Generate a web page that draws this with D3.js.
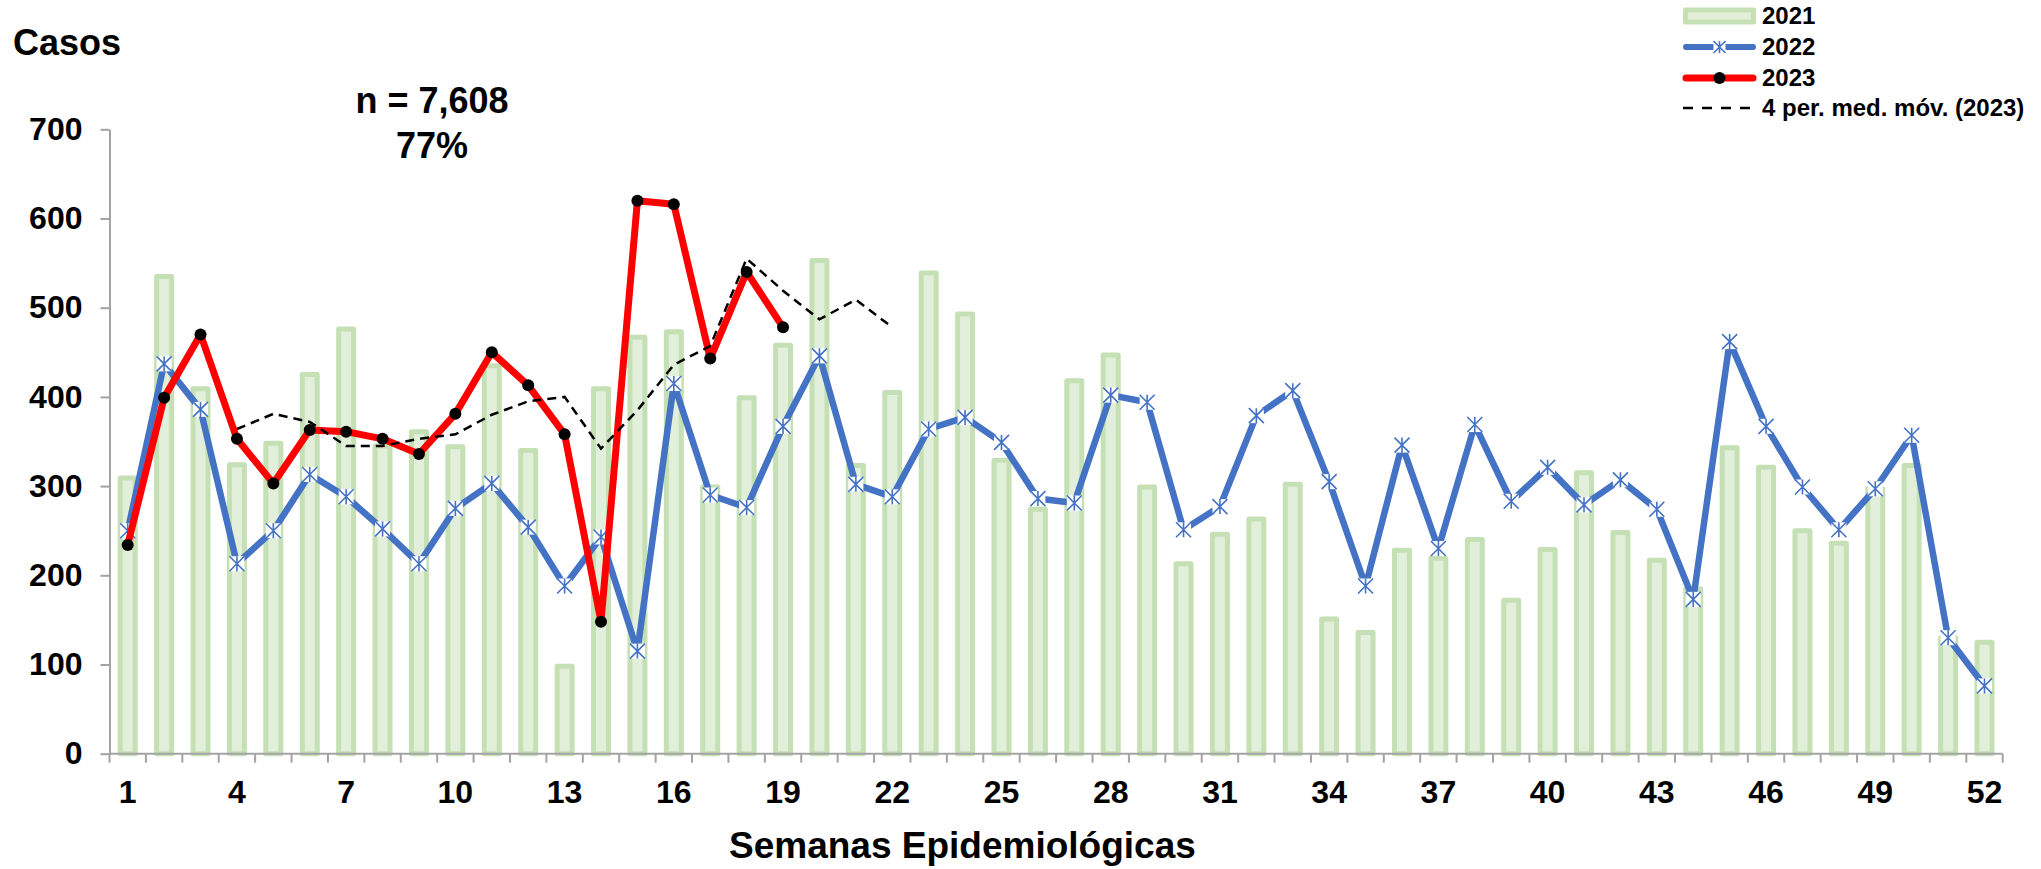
<!DOCTYPE html>
<html>
<head>
<meta charset="utf-8">
<script src="https://cdnjs.cloudflare.com/ajax/libs/d3/7.8.5/d3.min.js"></script>
<style>
  body { margin: 0; background: #fff; }
  text { font-family: "Liberation Sans", Arial, sans-serif; font-weight: bold; fill: #000; }
</style>
</head>
<body>
<div id="chart"></div>
<script>
var weeks = d3.range(1, 53)
var cases2021 = [309, 535, 409, 324, 348, 425, 476, 345, 361, 344, 435, 340, 98, 409, 467, 473,
                 299, 399, 458, 553, 323, 405, 539, 493, 329, 274, 418, 447, 299, 213, 246, 263, 302,
                 151, 136, 228, 219, 240, 172, 229, 315, 248, 217, 185, 343, 321, 250, 236, 297, 323, 130, 125]
var cases2022 = [250, 437, 386, 213, 250, 313, 288, 252, 213, 275, 303, 254, 188, 243, 115, 415,
                 290, 276, 367, 446, 302, 288, 364, 377, 349, 286, 281, 402, 394, 251, 277, 379, 407,
                 305, 188, 346, 230, 369, 283, 321, 279, 307, 274, 173, 462, 367, 299, 251, 297, 357, 130, 76]
var cases2023 = [234, 399, 470, 353, 303, 363, 361, 353, 336, 381, 450, 413, 358, 148, 620, 616, 443, 540, 478]
// 4 per. moving average (2023), weeks 4..22 as drawn
var movAvgWeeks = d3.range(4, 23)
var movAvg2023 = [364, 381, 372, 345, 345, 353, 358, 380, 395, 400, 342, 385, 436, 457, 555, 519, 487, 509, 478]
var yTicks = [0, 100, 200, 300, 400, 500, 600, 700]
var xTickLabels = [1, 4, 7, 10, 13, 16, 19, 22, 25, 28, 31, 34, 37, 40, 43, 46, 49, 52]
var legendLabels = ["2021", "2022", "2023", "4 per. med. móv. (2023)"]

var width = 2041, height = 869
var plotLeft = 109.5, plotRight = 2002.7, plotTop = 129.3, plotBottom = 753.7
var axisColor = "#a3a3a3"
var barStroke = "#c5e0b4", barFill = "#e2efda"
var blue = "#4472c4", red = "#ff0000"

var svg = d3.select("#chart").append("svg")
    .attr("width", width).attr("height", height)

var x = d3.scaleBand().domain(weeks).range([plotLeft, plotRight])
var y = d3.scaleLinear().domain([0, 700]).range([plotBottom, plotTop])
function cx(w) { return x(w) + x.bandwidth() / 2 }

// bars 2021
var barW = 15
svg.append("g").selectAll("rect")
    .data(cases2021)
    .enter().append("rect")
    .attr("x", function(d, i) { return cx(weeks[i]) - barW / 2 })
    .attr("y", function(d) { return y(d) })
    .attr("width", barW)
    .attr("height", function(d) { return plotBottom - y(d) })
    .attr("fill", barFill)
    .attr("stroke", barStroke)
    .attr("stroke-width", 5)
    .attr("stroke-linejoin", "round")

// y axis
var yAxis = svg.append("g")
    .attr("transform", "translate(" + plotLeft + ",0)")
    .call(d3.axisLeft(y).tickValues(yTicks).tickSize(9).tickSizeOuter(0).tickPadding(18))
yAxis.select(".domain").attr("stroke", axisColor).attr("stroke-width", 2)
yAxis.selectAll(".tick line").attr("stroke", axisColor).attr("stroke-width", 2)
yAxis.selectAll(".tick text").attr("font-size", 32).attr("font-family", null)

// x axis
svg.append("line")
    .attr("x1", plotLeft).attr("x2", plotRight)
    .attr("y1", plotBottom).attr("y2", plotBottom)
    .attr("stroke", axisColor).attr("stroke-width", 2)
svg.append("g").selectAll("line")
    .data(weeks.concat([null]))
    .enter().append("line")
    .attr("x1", function(d) { return d == null ? plotRight : x(d) })
    .attr("x2", function(d) { return d == null ? plotRight : x(d) })
    .attr("y1", plotBottom).attr("y2", plotBottom + 9)
    .attr("stroke", axisColor).attr("stroke-width", 2)

var xAxis = svg.append("g")
    .attr("transform", "translate(0," + plotBottom + ")")
    .call(d3.axisBottom(x).tickValues(xTickLabels).tickSize(0).tickPadding(27))
xAxis.select(".domain").remove()
xAxis.selectAll(".tick text").attr("font-size", 32).attr("font-family", null)

// 2022 line
var line = d3.line()
    .x(function(d) { return cx(d[0]) })
    .y(function(d) { return y(d[1]) })

svg.append("path")
    .datum(weeks.map(function(w, i) { return [w, cases2022[i]] }))
    .attr("d", line)
    .attr("fill", "none")
    .attr("stroke", blue)
    .attr("stroke-width", 6.5)
    .attr("stroke-linejoin", "round")

function star(g, s) {
    g.append("rect")
        .attr("x", -s).attr("y", -s).attr("width", 2 * s).attr("height", 2 * s)
        .attr("fill", "#fff")
    g.append("path")
        .attr("d", "M" + (-s) + "," + (-s) + "L" + s + "," + s +
                   "M" + (-s) + "," + s + "L" + s + "," + (-s) +
                   "M0," + (-s) + "L0," + s)
        .attr("stroke", blue).attr("stroke-width", 1.6).attr("fill", "none")
}

svg.append("g").selectAll("g")
    .data(cases2022)
    .enter().append("g")
    .attr("transform", function(d, i) { return "translate(" + cx(weeks[i]) + "," + y(d) + ")" })
    .each(function() { star(d3.select(this), 7.5) })

// 2023 line
var data2023 = cases2023.map(function(v, i) { return [weeks[i], v] })
svg.append("path")
    .datum(data2023)
    .attr("d", line)
    .attr("fill", "none")
    .attr("stroke", red)
    .attr("stroke-width", 7)
    .attr("stroke-linejoin", "round")

svg.append("g").selectAll("circle")
    .data(data2023)
    .enter().append("circle")
    .attr("cx", function(d) { return cx(d[0]) })
    .attr("cy", function(d) { return y(d[1]) })
    .attr("r", 6)
    .attr("fill", "#000")

// moving average
svg.append("path")
    .datum(movAvgWeeks.map(function(w, i) { return [w, movAvg2023[i]] }))
    .attr("d", line)
    .attr("fill", "none")
    .attr("stroke", "#000")
    .attr("stroke-width", 2.5)
    .attr("stroke-dasharray", "9,6")

// texts
svg.append("text")
    .attr("x", 13).attr("y", 55)
    .attr("font-size", 36)
    .text("Casos")

svg.append("text")
    .attr("x", 432).attr("y", 113)
    .attr("text-anchor", "middle")
    .attr("font-size", 36)
    .text("n = 7,608")

svg.append("text")
    .attr("x", 432).attr("y", 158)
    .attr("text-anchor", "middle")
    .attr("font-size", 36)
    .text("77%")

svg.append("text")
    .attr("x", 729).attr("y", 858)
    .attr("font-size", 37)
    .text("Semanas Epidemiológicas")

// legend
var legX = 1683, legW = 73, legText = 1762
var legY = [16, 47, 78, 108]
var legend = svg.append("g")

legend.append("rect")
    .attr("x", legX + 2.5).attr("y", legY[0] - 6)
    .attr("width", legW - 5).attr("height", 12)
    .attr("fill", barFill).attr("stroke", barStroke)
    .attr("stroke-width", 5).attr("stroke-linejoin", "round")

legend.append("line")
    .attr("x1", legX + 3).attr("x2", legX + legW - 3)
    .attr("y1", legY[1]).attr("y2", legY[1])
    .attr("stroke", blue).attr("stroke-width", 6).attr("stroke-linecap", "round")
star(legend.append("g").attr("transform", "translate(" + (legX + legW / 2) + "," + legY[1] + ")"), 6)

legend.append("line")
    .attr("x1", legX + 3).attr("x2", legX + legW - 3)
    .attr("y1", legY[2]).attr("y2", legY[2])
    .attr("stroke", red).attr("stroke-width", 7).attr("stroke-linecap", "round")
legend.append("circle")
    .attr("cx", legX + legW / 2).attr("cy", legY[2]).attr("r", 6).attr("fill", "#000")

legend.append("line")
    .attr("x1", legX).attr("x2", legX + 67)
    .attr("y1", legY[3]).attr("y2", legY[3])
    .attr("stroke", "#000").attr("stroke-width", 2.5).attr("stroke-dasharray", "10,9")

legend.selectAll("text")
    .data(legendLabels)
    .enter().append("text")
    .attr("x", legText)
    .attr("y", function(d, i) { return legY[i] })
    .attr("dy", "0.35em")
    .attr("font-size", 24)
    .text(function(d) { return d })
</script>
</body>
</html>
